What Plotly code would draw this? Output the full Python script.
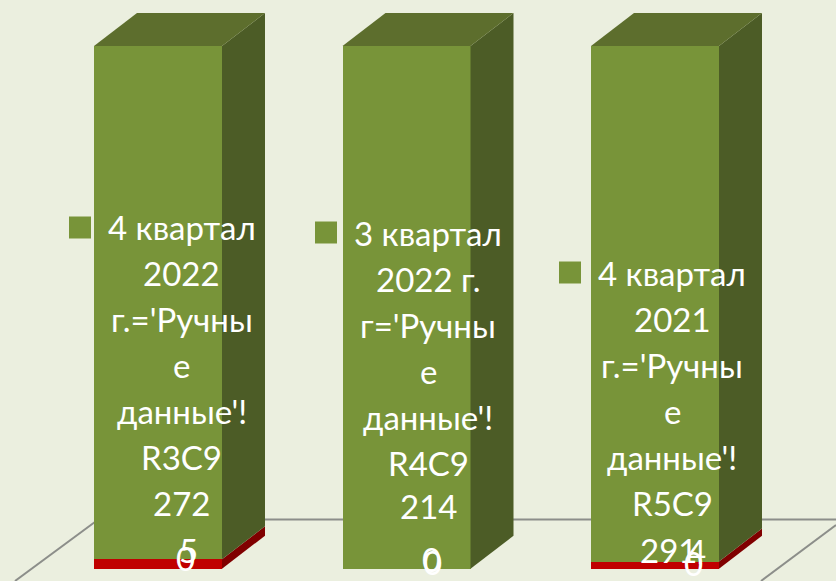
import plotly.graph_objects as go

# ---- data ----
categories = ["4 квартал 2022 г.", "3 квартал 2022 г.", "4 квартал 2021 г."]
manual_values = [272, 214, 291]
red_values = [5, 0, 4]
zero_values = [0, 0, 0]
label_lines = [
    ["4 квартал", "2022", "г.='Ручны", "е", "данные'!", "R3C9"],
    ["3 квартал", "2022 г.", "г='Ручны", "е", "данные'!", "R4C9"],
    ["4 квартал", "2021", "г.='Ручны", "е", "данные'!", "R5C9"],
]

# ---- layout constants (pixels of the 836x581 picture) ----
W, H = 836, 581
BAR_PX, STEP_PX, FIRST_PX = 128.0, 248.5, 158.0
TOP_PX, BASE_PX = 46.0, 568.7
DX_PX, DY_PX = 43.0, 33.0
BG = "#EBEFDF"
FRONT, SIDE, TOP = "#789439", "#4C5C26", "#5D6E2D"
RED, RED_SIDE = "#C00000", "#800000"
LINE = "#8C8E8A"
FONT = "Lato, 'Open Sans', sans-serif"
FS = 33
LINE_PX = 46.0
# label block: centre x, first-line y, key x, key y
LABEL_POS = [(181.5, 227, 80, 227.5), (428, 233, 326, 232.5), (672, 273, 570, 272.5)]
VALUE_Y = [503, 506, 550]
VALUE_X = [181.5, 428, 668]
RED_LABEL_POS = [(188, 550), (431, 559), (696, 551)]
ZERO_LABEL_POS = [(185, 558), (432, 562), (693, 563)]

px_x = lambda p: (p - FIRST_PX) / STEP_PX
span = BASE_PX - TOP_PX
px_y = lambda p: (BASE_PX - p) / span
dx, dy = DX_PX / STEP_PX, DY_PX / span
bw = BAR_PX / STEP_PX
xs = list(range(len(categories)))

fig = go.Figure()
fig.add_bar(x=xs, y=red_values, name="red", marker=dict(color=RED, line=dict(width=0)), width=bw)
fig.add_bar(x=xs, y=manual_values, name="green", marker=dict(color=FRONT, line=dict(width=0)), width=bw)
fig.add_bar(x=xs, y=zero_values, name="zero", marker=dict(color=FRONT, line=dict(width=0)), width=bw)


def poly(px, py, color):
    fig.add_scatter(x=px, y=py, mode="lines", fill="toself", fillcolor=color,
                    line=dict(width=0, color=color), hoverinfo="skip", showlegend=False)


for i, x in enumerate(xs):
    total = red_values[i] + manual_values[i] + zero_values[i]
    frac = red_values[i] / total
    l, r = x - bw / 2, x + bw / 2
    if frac > 0:
        poly([r, r + dx, r + dx, r], [0, dy, frac + dy, frac], RED_SIDE)
    poly([r, r + dx, r + dx, r], [frac, frac + dy, 1 + dy, 1], SIDE)
    poly([l, r, r + dx, l + dx], [1, 1, 1 + dy, 1 + dy], TOP)

# legend keys
fig.add_scatter(x=[px_x(p[2]) for p in LABEL_POS], y=[px_y(p[3]) for p in LABEL_POS],
                mode="markers", marker=dict(symbol="square", size=22, color=FRONT),
                hoverinfo="skip", showlegend=False)

def text(t, xp, yp):
    fig.add_annotation(x=px_x(xp), y=px_y(yp), xref="x", yref="y", text=t, showarrow=False,
                       xanchor="center", yanchor="middle",
                       font=dict(family=FONT, size=FS, color="white"))

for i in xs:
    cx, y0, _, _ = LABEL_POS[i]
    for j, t in enumerate(label_lines[i]):
        text(t, cx, y0 + j * LINE_PX)
    text(str(manual_values[i]), VALUE_X[i], VALUE_Y[i])
    text(str(red_values[i]), *RED_LABEL_POS[i])
    text(str(zero_values[i]), *ZERO_LABEL_POS[i])

floor = [((98.3, 519.5), (836, 519.5)), ((15, 581), (98.3, 519.5)), ((761, 581), (836, 525))]
shapes = [dict(type="line", xref="x", yref="y", layer="below", x0=px_x(a[0]), y0=px_y(a[1]),
               x1=px_x(b[0]), y1=px_y(b[1]), line=dict(color=LINE, width=2)) for a, b in floor]

fig.update_layout(
    width=W, height=H, margin=dict(l=0, r=0, t=0, b=0), showlegend=False,
    barmode="stack", barnorm="fraction", paper_bgcolor=BG, plot_bgcolor=BG, shapes=shapes,
    xaxis=dict(range=[px_x(0), px_x(W)], visible=False, fixedrange=True),
    yaxis=dict(range=[px_y(H), px_y(0)], visible=False, fixedrange=True),
)
fig.write_html("out.html", config={"displayModeBar": False},
               post_script="document.body.style.margin='0';document.body.style.overflow='hidden';")
